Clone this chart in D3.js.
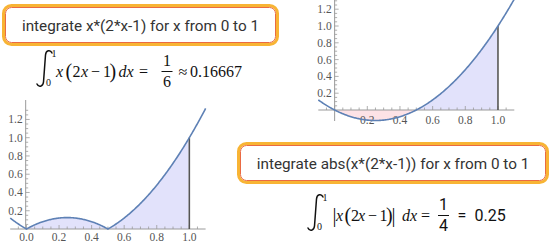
<!DOCTYPE html>
<html>
<head>
<meta charset="utf-8">
<script src="https://cdn.jsdelivr.net/npm/d3@7"></script>
<style>
  body { margin: 0; background: #fff; }
  svg { display: block; }
  .tick text { font-family: "Liberation Serif", "Times New Roman", "DejaVu Serif", serif; font-size: 11.5px; fill: #555; }
  .query { font-family: Roboto, "Noto Sans", sans-serif; font-size: 15.3px; fill: #333; }
  .math text { font-family: "Liberation Serif", "Times New Roman", "DejaVu Serif", serif; font-size: 16px; fill: #111; }
</style>
</head>
<body>
<div id="chart"></div>
<script>
  'use strict';

  // chart data
  var queries = ["integrate x*(2*x-1) for x from 0 to 1", "integrate abs(x*(2*x-1)) for x from 0 to 1"];
  var xDomain = [-0.1, 1.1];
  var limits = [0, 1];
  var xTickValues = [0.2, 0.4, 0.6, 0.8, 1.0];
  var xTickValuesAbs = [0.0, 0.2, 0.4, 0.6, 0.8, 1.0];
  var yTickValues = [0.2, 0.4, 0.6, 0.8, 1.0, 1.2];
  var minorStep = 0.05;
  var results = ["1/6", "0.16667", "1/4", "0.25"];

  var curveColor = "#5e81b5";
  var fillBlue = "#e2e2fb";
  var fillPink = "#fde2e6";
  var axisColor = "#9a9a9a";

  function integrand(x) { return x * (2 * x - 1); }

  function sampleXs() {
    var xs = [];
    for (var i = 0; i <= 240; i++) {
      xs.push(xDomain[0] + (xDomain[1] - xDomain[0]) * i / 240);
    }
    return xs;
  }

  var w = 554, h = 247;
  var svg = d3.select("#chart").append("svg")
    .attr("width", w)
    .attr("height", h);

  function minorTicks(lo, hi) {
    var out = [];
    for (var v = lo; v <= hi + 1e-9; v += minorStep) {
      out.push(Math.round(v * 100) / 100);
    }
    return out;
  }

  function isMajor(d) {
    return Math.abs(d * 5 - Math.round(d * 5)) < 1e-6;
  }

  function drawPlot(cfg) {
    var x = d3.scaleLinear().domain(xDomain).range(cfg.xRange);
    var y = d3.scaleLinear().domain([0, 1]).range(cfg.yRange);
    var g = svg.append("g");
    var f = cfg.f;
    var xs = sampleXs();

    // filled areas between curve and axis
    var inside = xs.filter(function (v) { return v >= limits[0] && v <= limits[1]; });
    var area = d3.area()
      .x(function (d) { return x(d); })
      .y0(y(0))
      .y1(function (d) { return y(f(d)); });

    if (cfg.abs) {
      g.append("path").attr("d", area(inside)).attr("fill", fillBlue);
    } else {
      var neg = inside.filter(function (v) { return v <= 0.5; });
      var pos = inside.filter(function (v) { return v >= 0.5; });
      g.append("path").attr("d", area(neg)).attr("fill", fillPink);
      g.append("path").attr("d", area(pos)).attr("fill", fillBlue);
    }

    // x axis
    var xAxisG = g.append("g").attr("transform", "translate(0," + y(0) + ")");
    xAxisG.append("line")
      .attr("x1", cfg.xRange[0]).attr("x2", cfg.xRange[1])
      .attr("stroke", axisColor).attr("stroke-width", 1);
    xAxisG.selectAll("line.minor")
      .data(minorTicks(-0.05, 1.05))
      .enter().append("line")
      .attr("class", "minor")
      .attr("x1", function (d) { return x(d); })
      .attr("x2", function (d) { return x(d); })
      .attr("y1", 0)
      .attr("y2", function (d) { return isMajor(d) ? -4 : -2.5; })
      .attr("stroke", axisColor).attr("stroke-width", 0.8);
    xAxisG.selectAll("g.tick")
      .data(cfg.xTicks)
      .enter().append("g")
      .attr("class", "tick")
      .append("text")
      .attr("x", function (d) { return x(d); })
      .attr("y", cfg.xLabelDy)
      .attr("text-anchor", "middle")
      .text(function (d) { return d.toFixed(1); });

    // y axis
    var x0 = x(0) + cfg.yAxisShift;
    var yAxisG = g.append("g").attr("transform", "translate(" + x0 + ",0)");
    yAxisG.append("line")
      .attr("y1", cfg.yAxisEnds[0]).attr("y2", cfg.yAxisEnds[1])
      .attr("stroke", axisColor).attr("stroke-width", 1);
    yAxisG.selectAll("line.minor")
      .data(minorTicks(minorStep, 1.3))
      .enter().append("line")
      .attr("class", "minor")
      .attr("y1", function (d) { return y(d); })
      .attr("y2", function (d) { return y(d); })
      .attr("x1", 0)
      .attr("x2", function (d) { return isMajor(d) ? 4 : 2.5; })
      .attr("stroke", axisColor).attr("stroke-width", 0.8);
    yAxisG.selectAll("g.tick")
      .data(yTickValues)
      .enter().append("g")
      .attr("class", "tick")
      .append("text")
      .attr("x", -3)
      .attr("y", function (d) { return y(d) + 4; })
      .attr("text-anchor", "end")
      .text(function (d) { return d.toFixed(1); });

    // upper limit line
    g.append("line")
      .attr("x1", x(limits[1])).attr("x2", x(limits[1]))
      .attr("y1", y(0)).attr("y2", y(f(limits[1])))
      .attr("stroke", "#555").attr("stroke-width", 1.6);

    // curve
    var line = d3.line()
      .x(function (d) { return x(d); })
      .y(function (d) { return y(f(d)); });
    g.append("path")
      .attr("d", line(xs))
      .attr("fill", "none")
      .attr("stroke", curveColor)
      .attr("stroke-width", 1.6);
  }

  // top-right plot: signed integrand
  drawPlot({
    f: integrand, abs: false,
    xRange: [318.3, 514.3], yRange: [110, 26],
    xTicks: xTickValues, xLabelDy: 14,
    yAxisShift: 0, yAxisEnds: [0, 121]
  });

  // bottom-left plot: absolute value
  drawPlot({
    f: function (v) { return Math.abs(integrand(v)); }, abs: true,
    xRange: [10.2, 205.6], yRange: [229, 137.7],
    xTicks: xTickValuesAbs, xLabelDy: 12,
    yAxisShift: -0.8, yAxisEnds: [100, 229]
  });

  // query boxes
  function drawBox(bx, by, bw, bh, label) {
    var g = svg.append("g");
    g.append("rect")
      .attr("x", bx + 1.5).attr("y", by + 1.5)
      .attr("width", bw - 3).attr("height", bh - 3)
      .attr("rx", 8).attr("ry", 8)
      .attr("fill", "#fff")
      .attr("stroke", "#f8b434").attr("stroke-width", 3);
    g.append("rect")
      .attr("x", bx + 3.5).attr("y", by + 3.5)
      .attr("width", bw - 7).attr("height", bh - 7)
      .attr("rx", 6).attr("ry", 6)
      .attr("fill", "#fff")
      .attr("stroke", "#ea6a43").attr("stroke-width", 1);
    g.append("text")
      .attr("class", "query")
      .attr("x", bx + bw / 2)
      .attr("y", by + bh / 2 + 5.5)
      .attr("text-anchor", "middle")
      .text(label);
  }
  drawBox(2, 4, 277, 42, queries[0]);
  drawBox(237, 142, 312, 42, queries[1]);

  // formulas: each glyph placed separately, like the typeset original
  function glyphs(g, base, list) {
    list.forEach(function (p) {
      var t = g.append("text")
        .attr("x", p[0]).attr("y", base + (p[3] || 0))
        .text(p[1]);
      if (p[2]) {
        for (var k in p[2]) t.style(k, p[2][k]);
      }
    });
  }
  var it = { "font-style": "italic" };
  var paren = { "font-size": "20px", "font-weight": "300" };
  var small = { "font-size": "10px" };
  var sans = { "font-family": "Roboto, sans-serif" };

  // slanted integral sign drawn as a stroke, limits as small text
  function integralSign(g, ix, base) {
    var top = base - 27, bot = base + 10;
    g.append("path")
      .attr("d", "M" + (ix + 15) + "," + (top + 3) +
        " C" + (ix + 13.5) + "," + (top - 0.5) + " " + (ix + 9) + "," + (top) + " " + (ix + 8.5) + "," + (top + 5) +
        " L" + (ix + 6.5) + "," + (bot - 5) +
        " C" + (ix + 6) + "," + (bot) + " " + (ix + 1.5) + "," + (bot + 0.5) + " " + (ix) + "," + (bot - 3))
      .attr("fill", "none")
      .attr("stroke", "#111")
      .attr("stroke-width", 1.5)
      .attr("stroke-linecap", "round");
    glyphs(g, base, [
      [ix + 14.5, String(limits[1]), small, -20],
      [ix + 9, String(limits[0]), small, 9]
    ]);
  }

  function fraction(g, cx, base, num, den, style) {
    g.append("text").attr("x", cx).attr("y", base - 11).attr("text-anchor", "middle")
      .style("font-family", style["font-family"] || null).text(num);
    g.append("line").attr("x1", cx - 5.5).attr("x2", cx + 5.5)
      .attr("y1", base - 5.5).attr("y2", base - 5.5)
      .attr("stroke", "#111").attr("stroke-width", 1);
    g.append("text").attr("x", cx).attr("y", base + 10).attr("text-anchor", "middle")
      .style("font-family", style["font-family"] || null).text(den);
  }

  var m1 = svg.append("g").attr("class", "math");
  var b1 = 77;
  integralSign(m1, 37, b1);
  glyphs(m1, b1, [
    [56, "x", it],
    [65.5, "(", paren, 1],
    [72.5, "2"],
    [81, "x", it],
    [91, "\u2212"],
    [103, "1"],
    [109.5, ")", paren, 1],
    [118.5, "d", it],
    [126.5, "x", it],
    [139, "="],
    [178.5, "\u2248"],
    [190, results[1]]
  ]);
  var fr1 = results[0].split("/");
  fraction(m1, 167, b1, fr1[0], fr1[1], {});

  var m2 = svg.append("g").attr("class", "math");
  var b2 = 221;
  integralSign(m2, 308, b2);
  glyphs(m2, b2, [
    [332.5, "|", paren, 1],
    [336, "x", it],
    [344.5, "(", paren, 1],
    [351, "2"],
    [358, "x", it],
    [368, "\u2212"],
    [379.5, "1"],
    [386, ")", paren, 1],
    [391.5, "|", paren, 1],
    [402, "d", it],
    [410, "x", it],
    [421, "="],
    [457.5, "=", sans],
    [474.5, results[3], sans]
  ]);
  var fr2 = results[2].split("/");
  fraction(m2, 443.5, b2, fr2[0], fr2[1], sans);
</script>
</body>
</html>
